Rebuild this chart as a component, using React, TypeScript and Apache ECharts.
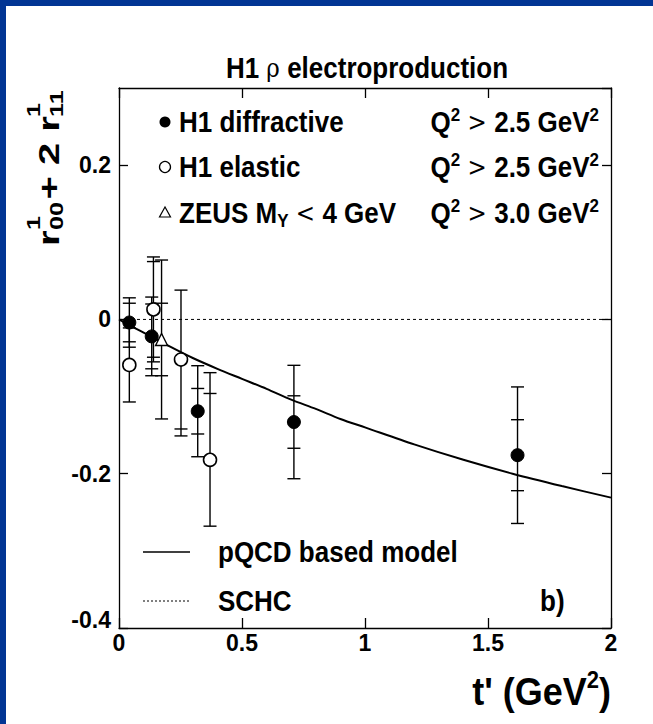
import React, { useEffect, useRef } from "react";
import * as echarts from "echarts";

const FONT = "'Liberation Sans', Arial, Helvetica, sans-serif";

// H1 diffractive: t', value, stat error, total error (symmetric)
const diffT = [0.042, 0.133, 0.32, 0.711, 1.62];
const diffV = [-0.004, -0.022, -0.119, -0.133, -0.176];
const diffStat = [0.025, 0.042, 0.0295, 0.034, 0.046];
const diffTot = [0.032, 0.051, 0.059, 0.0735, 0.0885];

// H1 elastic: upward and downward errors
const elT = [0.042, 0.14, 0.252, 0.37];
const elV = [-0.059, 0.013, -0.052, -0.182];
const elStatUp = [0.0, 0.062, 0.090, 0.086];
const elTotUp = [0.048, 0.068, 0.090, 0.113];
const elStatDn = [0.0, 0.062, 0.090, 0.0];
const elTotDn = [0.048, 0.068, 0.099, 0.086];

// ZEUS M_Y < 4 GeV
const zeusT = [0.173];
const zeusV = [-0.026];
const zeusStat = [0.047];
const zeusTot = [0.103];

// pQCD based model curve
const modelT = [0, 0.05, 0.1, 0.2, 0.3, 0.4, 0.5, 0.6, 0.7, 0.8, 0.9, 1.0, 1.2, 1.4, 1.6, 1.8, 2.0];
const modelV = [0, -0.009, -0.017, -0.034, -0.050, -0.064, -0.077, -0.090, -0.104, -0.116, -0.129, -0.140, -0.162, -0.182, -0.200, -0.216, -0.231];

// SCHC expectation
const schcT = [0, 2];
const schcV = [0, 0];

const xTicks = ["0", "0.5", "1", "1.5", "2"];

function errSeries(
  name: string, t: number[], v: number[],
  stUp: number[], totUp: number[], stDn: number[], totDn: number[],
) {
  const data = t.map((x, i) => [x, v[i], stUp[i], totUp[i], stDn[i], totDn[i]]);
  return {
    name,
    type: "custom",
    z: 3,
    data,
    renderItem: (params: any, api: any) => {
      const x = api.value(0);
      const y = api.value(1);
      const su = api.value(2);
      const tu = api.value(3);
      const sd = api.value(4);
      const td = api.value(5);
      const top = api.coord([x, y + tu]);
      const bot = api.coord([x, y - td]);
      const cw = 6.5;
      const style = { stroke: "#000", lineWidth: 1.4 };
      const cap = (p: number[]) => ({ type: "line", shape: { x1: p[0] - cw, y1: p[1], x2: p[0] + cw, y2: p[1] }, style });
      const children: any[] = [
        { type: "line", shape: { x1: top[0], y1: top[1], x2: bot[0], y2: bot[1] }, style },
        cap(top),
        cap(bot),
      ];
      if (su > 0 && su < tu) children.push(cap(api.coord([x, y + su])));
      if (sd > 0 && sd < td) children.push(cap(api.coord([x, y - sd])));
      return { type: "group", children };
    },
  };
}

export default function App() {
  const ref = useRef<HTMLDivElement>(null);
  useEffect(() => {
    if (!ref.current) return;
    const chart = echarts.init(ref.current, undefined, { renderer: "svg" });
    const labelStyle = { fontFamily: FONT, fontWeight: "bold" as const, fontSize: 23, color: "#000" };
    const axisLineStyle = { color: "#000", width: 1.3 };
    const rich = {
      m: { fontFamily: FONT, fontWeight: "bold", fontSize: 26, lineHeight: 30, color: "#000" },
      s: { fontFamily: FONT, fontWeight: "bold", fontSize: 17, lineHeight: 17, verticalAlign: "top", color: "#000" },
      g: { fontFamily: "'DejaVu Serif', serif", fontWeight: "normal", fontSize: 23, lineHeight: 30, color: "#000" },
      b: { fontFamily: FONT, fontWeight: "bold", fontSize: 17, lineHeight: 17, verticalAlign: "bottom", color: "#000" },
    };
    const txt = (x: number, y: number, text: string, align = "left", sy = 1.12) => ({
      type: "text", x, y, scaleY: sy,
      style: { text, rich, align, verticalAlign: "middle" },
    });
    const ySub = (x: number, y: number, text: string, size: number) => ({
      type: "text", x, y,
      style: { text, font: `bold ${size}px ${FONT}`, verticalAlign: "middle", fill: "#000" },
    });
    const option: any = {
      animation: false,
      backgroundColor: "#fff",
      grid: { left: 119, right: 42, top: 88, bottom: 96, show: false },
      xAxis: [
        {
          type: "value", min: 0, max: 2, interval: 0.5, position: "bottom",
          axisLine: { show: true, onZero: false, lineStyle: axisLineStyle },
          axisTick: { show: true, inside: true, length: 10, lineStyle: axisLineStyle },
          splitLine: { show: false },
          axisLabel: { ...labelStyle, margin: 3, formatter: (v: number) => xTicks[Math.round(v * 2)] ?? "" },
        },
        {
          type: "value", min: 0, max: 2, interval: 0.5, position: "top",
          axisLine: { show: true, onZero: false, lineStyle: axisLineStyle },
          axisTick: { show: true, inside: true, length: 10, lineStyle: axisLineStyle },
          splitLine: { show: false },
          axisLabel: { show: false },
        },
      ],
      yAxis: [
        {
          type: "value", min: -0.4, max: 0.3, interval: 0.2, position: "left",
          axisLine: { show: true, onZero: false, lineStyle: axisLineStyle },
          axisTick: { show: true, inside: true, length: 9, lineStyle: axisLineStyle },
          splitLine: { show: false },
          axisLabel: {
            ...labelStyle, margin: 8, showMaxLabel: false,
            formatter: (v: number) => {
              if (Math.abs(v) < 1e-9) return "0";
              const s = String(Math.round(v * 10) / 10);
              return v < -0.35 ? `{low|${s}}` : s;
            },
            rich: { low: { ...labelStyle, padding: [0, 0, 16, 0] } },
          },
        },
        {
          type: "value", min: -0.4, max: 0.3, interval: 0.2, position: "right",
          axisLine: { show: true, onZero: false, lineStyle: axisLineStyle },
          axisTick: { show: true, inside: true, length: 9, lineStyle: axisLineStyle },
          splitLine: { show: false },
          axisLabel: { show: false },
        },
      ],
      series: [
        {
          name: "SCHC", type: "line", data: schcT.map((t, i) => [t, schcV[i]]), symbol: "none", z: 1,
          lineStyle: { color: "#000", width: 1, type: [3, 3] },
        },
        {
          name: "pQCD based model", type: "line", data: modelT.map((t, i) => [t, modelV[i]]), symbol: "none",
          smooth: 0.3, z: 2, lineStyle: { color: "#000", width: 2 },
        },
        errSeries("H1 diffractive err", diffT, diffV, diffStat, diffTot, diffStat, diffTot),
        errSeries("H1 elastic err", elT, elV, elStatUp, elTotUp, elStatDn, elTotDn),
        errSeries("ZEUS err", zeusT, zeusV, zeusStat, zeusTot, zeusStat, zeusTot),
        {
          name: "H1 diffractive", type: "scatter", z: 5, symbol: "circle", symbolSize: 13,
          data: diffT.map((t, i) => [t, diffV[i]]),
          itemStyle: { color: "#000", borderColor: "#000", borderWidth: 1, opacity: 1 },
        },
        {
          name: "H1 elastic", type: "scatter", z: 5, symbol: "circle", symbolSize: 13,
          data: elT.map((t, i) => [t, elV[i]]),
          itemStyle: { color: "#fff", borderColor: "#000", borderWidth: 1.6, opacity: 1 },
        },
        {
          name: "ZEUS", type: "scatter", z: 5, symbol: "triangle", symbolSize: 12,
          data: zeusT.map((t, i) => [t, zeusV[i]]),
          itemStyle: { color: "#fff", borderColor: "#000", borderWidth: 1.4, opacity: 1 },
        },
      ],
      graphic: [
        { type: "rect", left: 0, top: 0, shape: { width: 6, height: 724 }, style: { fill: "#023594" }, z: 100 },
        { type: "rect", left: 0, top: 0, shape: { width: 653, height: 6 }, style: { fill: "#023594" }, z: 100 },
        // title
        txt(367, 68, "{m|H1 }{g|ρ}{m| electroproduction}", "center", 1.15),
        // legend markers
        { type: "circle", shape: { cx: 165, cy: 122, r: 5.5 }, style: { fill: "#000" }, z: 10 },
        { type: "circle", shape: { cx: 165, cy: 167, r: 5.5 }, style: { fill: "#fff", stroke: "#000", lineWidth: 1.3 }, z: 10 },
        { type: "polygon", shape: { points: [[165, 207], [159.5, 217], [170.5, 217]] }, style: { fill: "#fff", stroke: "#000", lineWidth: 1.2 }, z: 10 },
        txt(179, 122, "{m|H1 diffractive}"),
        txt(179, 167, "{m|H1 elastic}"),
        txt(179, 213, "{m|ZEUS M}{b|Y}{g| < }{m|4 GeV}"),
        txt(599, 122, "{m|Q}{s|2}{g| > }{m|2.5 GeV}{s|2}", "right"),
        txt(599, 167, "{m|Q}{s|2}{g| > }{m|2.5 GeV}{s|2}", "right"),
        txt(599, 213, "{m|Q}{s|2}{g| > }{m|3.0 GeV}{s|2}", "right"),
        // model legend
        { type: "line", shape: { x1: 143, y1: 552, x2: 190, y2: 552 }, style: { stroke: "#000", lineWidth: 1.5 } },
        txt(218, 552, "{m|pQCD based model}"),
        { type: "line", shape: { x1: 143, y1: 601, x2: 190, y2: 601 }, style: { stroke: "#000", lineWidth: 1, lineDash: [2, 2] } },
        txt(218, 601, "{m|SCHC}"),
        txt(540, 601, "{m|b)}"),
        // x axis title
        {
          type: "text", x: 611, y: 691, scaleY: 1.1,
          style: {
            text: "{t|t' (GeV}{u|2}{t|)}",
            rich: {
              t: { fontFamily: FONT, fontWeight: "bold", fontSize: 36, lineHeight: 42, color: "#000" },
              u: { fontFamily: FONT, fontWeight: "bold", fontSize: 22, lineHeight: 22, verticalAlign: "top", color: "#000" },
            },
            align: "right", verticalAlign: "middle",
          },
        },
        // y axis title (rotated, reads bottom-to-top)
        {
          type: "group", x: 48, y: 246, rotation: Math.PI / 2, scaleX: 1.33,
          children: [
            ySub(0, 0, "r", 30),
            ySub(12, -14, "1", 19),
            ySub(12, 9, "00", 19),
            ySub(35, 0, "+ 2 r", 30),
            ySub(97, -14, "1", 19),
            ySub(97, 9, "11", 19),
          ],
        },
      ],
    };
    chart.setOption(option);
    return () => chart.dispose();
  }, []);
  return <div ref={ref} style={{ position: "fixed", left: 0, top: 0, width: 653, height: 724, background: "#fff" }} />;
}
